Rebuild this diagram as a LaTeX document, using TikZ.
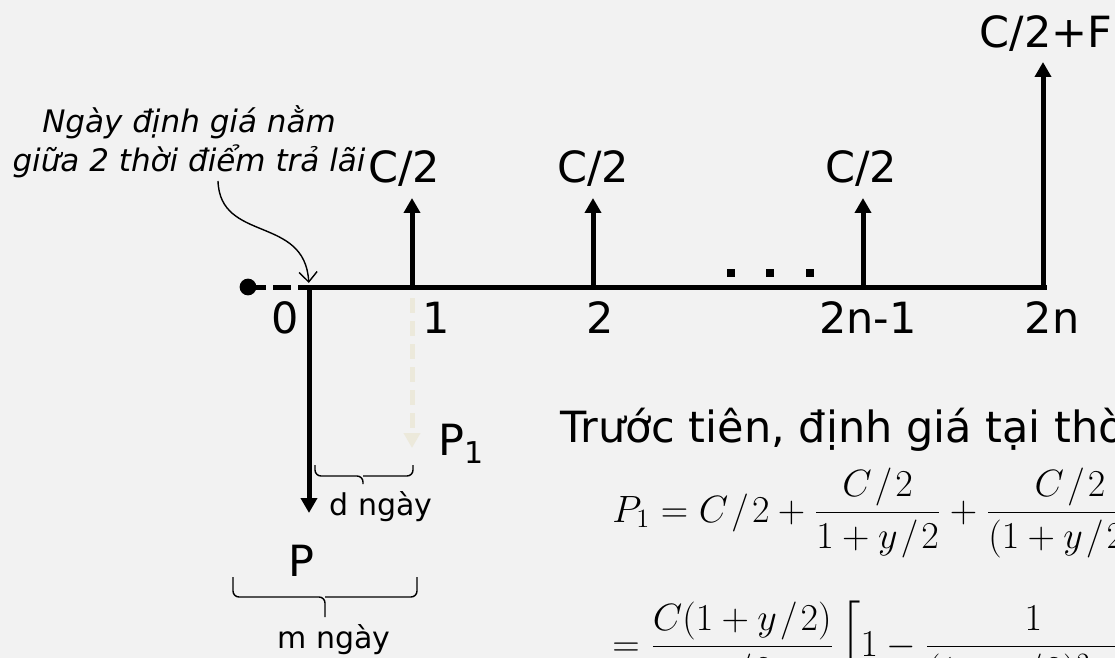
\documentclass[tikz,border=0pt]{standalone}
\usepackage{amsmath}
\usepackage{graphicx}
\usepackage{fontspec}
\setmainfont{DejaVu Sans}
\usepackage{tikz}
\usetikzlibrary{arrows.meta}
\definecolor{paper}{HTML}{F2F2F2}
\definecolor{faint}{HTML}{ECE9DB}
\newcommand{\half}{\mkern1.5mu/\mkern1.5mu2}
\tikzset{
  axis/.style={line width=2.5pt},
  flow/.style={-{Triangle[length=7.5pt, width=8pt]}, line width=2.5pt},
  ghost/.style={-{Triangle[length=7.5pt, width=8pt]}, line width=2.5pt, faint, dash pattern=on 7.5pt off 4pt},
  pointer/.style={-{Straight Barb[length=5pt, width=9pt]}, line width=0.7pt},
  span/.style={line width=0.7pt, rounded corners=3pt},
  lbl/.style={font=\fontsize{21.5}{26}\selectfont, inner sep=0pt, anchor=base},
  small/.style={font=\fontsize{15}{18}\selectfont, inner sep=0pt, anchor=base},
  note/.style={font=\fontsize{15.5}{20}\selectfont\itshape, align=center, inner sep=0pt, anchor=base},
  formula/.style={font=\fontsize{17.28}{21}\selectfont, inner sep=0pt, anchor=base west}
}

\begin{document}
\begin{tikzpicture}[x=0.5pt, y=-0.5pt]
    \fill[paper] (0,0) rectangle (1115,658);
    \clip (0,0) rectangle (1115,658);

    % time line
    \coordinate (start) at (248,287);
    \coordinate (t0) at (309,287);
    \coordinate (t1) at (412,287);
    \coordinate (t2) at (593,287);
    \coordinate (t3) at (863,287);
    \coordinate (t4) at (1043,287);
    \coordinate (tend) at (1047,287);
    \draw[axis] (t0) -- (tend);
    \draw[axis, dash pattern=on 9pt off 3.5pt] (start) -- (t0);
    \fill (start) circle (4.2pt);
    \foreach \x in {731, 770, 810}
        \fill (\x,273) +(-2pt,-2pt) rectangle +(2pt,2pt);

    % coupons
    \coordinate (u1) at (412,198);
    \coordinate (u2) at (593,198);
    \coordinate (u3) at (863,198);
    \coordinate (u4) at (1043,62);
    \foreach \i in {1,...,4}
        \draw[flow] (t\i) -- (u\i);
    \node[lbl] (c1) at (404,183) {C/2};
    \node[lbl] (c2) at (593,183) {C/2};
    \node[lbl] (c3) at (861,183) {C/2};
    \node[lbl] (c4) at (1046,48) {C/2+F};

    % period numbers
    \node[lbl] (n0) at (285,333) {0};
    \node[lbl] (n1) at (436,333) {1};
    \node[lbl] (n2) at (600,333) {2};
    \node[lbl] (n3) at (868,333) {2n-1};
    \node[lbl] (n4) at (1052,333) {2n};

    % prices
    \coordinate (pend) at (309,513);
    \draw[flow] (t0) -- (pend);
    \coordinate (ghosttip) at (412,448);
    \draw[ghost, shorten <=5.5pt] (t1) -- (ghosttip);
    \node[lbl, anchor=base west] (p1) at (438,455) {P\raisebox{-0.35ex}{\fontsize{15}{15}\selectfont 1}};
    \node[lbl] (p) at (301,576) {P};

    % day counts
    \coordinate (d0) at (315,465);
    \coordinate (d1) at (413,465);
    \draw[span] (d0) |- (363,476) -- (363,484);
    \draw[span] (d1) |- (363,476);
    \node[small] (dlab) at (381,515) {d ngày};
    \coordinate (m0) at (233,577);
    \coordinate (m1) at (417,577);
    \draw[span] (m0) |- (325,597) -- (325,617);
    \draw[span] (m1) |- (325,597);
    \node[small] (mlab) at (334,648) {m ngày};

    % annotation
    \node[note] (note) at (189,172) {Ngày định giá nằm\\giữa 2 thời điểm trả lãi};
    \coordinate (cstart) at (218,181);
    \draw[pointer, shorten >=2pt] (cstart) .. controls +(2,62) and +(-4,-72) .. (t0);

    % valuation
    \node[lbl, anchor=base west] (step1) at (560,442) {Trước tiên, định giá tại thời điểm 1:};
    \node[formula] (eq1) at (612,522) {\scalebox{1.1}{$\displaystyle P_1 = C\half + \frac{C\half}{1+y\half} + \frac{C\half}{(1+y\half)^2} + \cdots + \frac{C\half+F}{(1+y\half)^{2n-1}}$}};
    \node[formula] (eq2) at (612,656) {\scalebox{1.1}{$\displaystyle = \frac{C(1+y\half)}{y\half}\left[1-\frac{1}{(1+y\half)^{2n-1}}\right] + \frac{F}{(1+y\half)^{2n-1}}$}};
\end{tikzpicture}
\end{document}
